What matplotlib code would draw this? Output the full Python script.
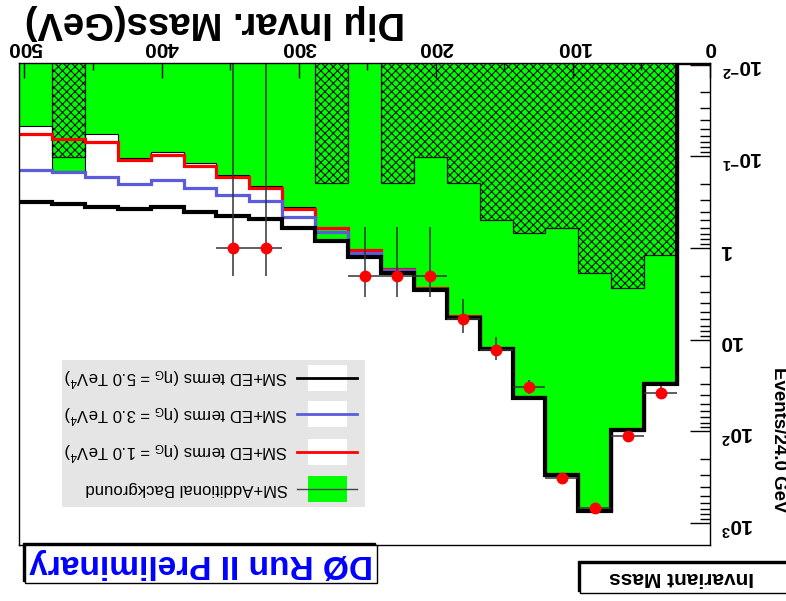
import numpy as np
import matplotlib
matplotlib.use("Agg")
import matplotlib.pyplot as plt
from matplotlib.patches import Rectangle
from matplotlib.lines import Line2D
from matplotlib.ticker import FixedLocator, LogLocator, NullFormatter

plt.rcParams['font.family'] = ['Liberation Sans', 'DejaVu Sans']
plt.rcParams['mathtext.fontset'] = 'custom'
plt.rcParams['mathtext.rm'] = 'Liberation Sans'
plt.rcParams['mathtext.it'] = 'Liberation Sans:italic'
plt.rcParams['mathtext.bf'] = 'Liberation Sans:bold'
plt.rcParams['hatch.linewidth'] = 0.8

# dimuon invariant mass, 24 GeV bins from 0 to 504 GeV (first bin 0-24)
bin_width = 24.0
edges = np.arange(22) * bin_width

sm_add_bkg = [0, 30.3, 97.5, 730, 300, 43.4, 12.7, 5.73, 2.9, 1.8, 1.2,
              0.81, 0.36, 0.21, 0.159, 0.119, 0.089, 0.105, 0.057, 0.145, 0.0465]
add_bkg_band = [np.nan, 1.19, 2.70, 1.88, 0.60, 0.69, 0.50, 0.196, 0.1005, 0.196, np.nan,
                0.196, np.nan, np.nan, np.nan, np.nan, np.nan, np.nan, np.nan, 0.1005, np.nan]
ed_eta1 = [0, 29.5, 95, 715, 293, 42, 12.3, 5.55, 2.75, 1.68, 1.06,
           0.61, 0.377, 0.222, 0.168, 0.126, 0.0977, 0.111, 0.069, 0.0645, 0.0569]
ed_eta3 = [0, 29.8, 96, 720, 296, 42.6, 12.4, 5.6, 2.8, 1.73, 1.13,
           0.67, 0.453, 0.308, 0.265, 0.219, 0.183, 0.201, 0.166, 0.150, 0.1416]
ed_eta5 = [0, 30.3, 97.5, 730, 300, 43.4, 12.7, 5.73, 2.9, 1.85, 1.24,
           0.83, 0.607, 0.482, 0.446, 0.40, 0.361, 0.373, 0.358, 0.33, 0.311]
data = [0, 38, 113, 685, 323, 33, 13, 6, 2, 2, 2,
        0, 0, 1, 1, 0, 0, 0, 0, 0, 0]

x_ticks = [0, 100, 200, 300, 400, 500]
y_ticks = [0.01, 0.1, 1, 10, 100, 1000]
y_tick_labels = [r'$\mathbf{10^{-2}}$', r'$\mathbf{10^{-1}}$', r'$\mathbf{1}$',
                 r'$\mathbf{10}$', r'$\mathbf{10^{2}}$', r'$\mathbf{10^{3}}$']

legend_rows = [
    ('SM+ED terms ($\\mathrm{\\eta_G}$ = 5.0 TeV$^{4}$)', 'black'),
    ('SM+ED terms ($\\mathrm{\\eta_G}$ = 3.0 TeV$^{4}$)', '#5b5bdc'),
    ('SM+ED terms ($\\mathrm{\\eta_G}$ = 1.0 TeV$^{4}$)', 'red'),
    ('SM+Additional Background', '#00ff00'),
]

W, H = 786, 601
y_lo, y_hi = 0.0096, 1730.0


def fx(px):
    return px / W


def fy(py):
    return 1 - py / H


fig = plt.figure(figsize=(W / 100, H / 100), dpi=100)
# the whole picture is turned upside down: x runs right to left, y top to bottom
ax = fig.add_axes([fx(19), fy(545), fx(710) - fx(19), fy(63) - fy(545)])
ax.set_yscale('log')
ax.set_xlim(504, 0)
ax.set_ylim(y_hi, y_lo)

green = np.clip(np.array(sm_add_bkg, float), y_lo, None)
ax.stairs(green, edges, baseline=y_lo, fill=True, color='#00ff00', lw=0, zorder=1)

band = np.array(add_bkg_band, float)
i = 0
while i < len(band):
    if np.isnan(band[i]):
        i += 1
        continue
    j = i
    while j < len(band) and not np.isnan(band[j]):
        j += 1
    ax.stairs(band[i:j], edges[i:j + 1], baseline=y_lo, fill=True, facecolor='none',
              edgecolor='#111111', hatch='xxxx', lw=0.9, zorder=2)
    i = j

ax.stairs(green, edges, baseline=None, color='black', lw=0.8, zorder=3)
ax.stairs(np.clip(ed_eta1, y_lo, None), edges, baseline=None, color='red', lw=2.3, zorder=4)
ax.stairs(np.clip(ed_eta3, y_lo, None), edges, baseline=None, color='#5b5bdc', lw=2.3, zorder=5)
ax.stairs(np.clip(ed_eta5, y_lo, None), edges, baseline=None, color='black', lw=3.0, zorder=6)

d = np.array(data, float)
centers = 0.5 * (edges[:-1] + edges[1:])
m = d > 0
err = np.sqrt(d[m])
lo = d[m] - np.clip(d[m] - err, 1e-5, None)
ax.errorbar(centers[m], d[m], xerr=bin_width / 2, yerr=[lo, err], fmt='o', color='red',
            ecolor='#333333', elinewidth=1.1, capsize=0, markersize=7.5, zorder=8)

ax.xaxis.tick_top()
ax.set_xticks(x_ticks, labels=[str(v) for v in x_ticks], fontweight='bold', fontsize=15)
ax.xaxis.set_minor_locator(FixedLocator([50, 150, 250, 350, 450]))
ax.tick_params(axis='x', which='major', direction='in', length=10.5, width=1,
               labelrotation=180, pad=4)
ax.tick_params(axis='x', which='minor', direction='in', length=5, width=1)

ax.yaxis.tick_right()
ax.set_yticks(y_ticks, labels=y_tick_labels, fontsize=15)
ax.yaxis.set_minor_locator(LogLocator(base=10, subs=np.arange(2, 10)))
ax.yaxis.set_minor_formatter(NullFormatter())
ax.tick_params(axis='y', which='major', direction='in', length=14.4, width=1,
               labelrotation=180, pad=8)
ax.tick_params(axis='y', which='minor', direction='in', length=7.2, width=1)
for s in ax.spines.values():
    s.set_linewidth(1.0)
    s.set_zorder(10)

fig.text(fx(25), fy(22), 'Diμ Invar. Mass(GeV)', rotation=180, ha='left', va='center',
         fontsize=27.5, fontweight='bold')
fig.text(fx(779), fy(440), 'Events/24.0 GeV', rotation=270, ha='center', va='center',
         fontsize=13.5, fontweight='bold')

# legend, drawn by hand so that its text can be upside down
lax = fig.add_axes([fx(62), fy(507), fx(365) - fx(62), fy(360) - fy(507)])
lax.set_xlim(0, 303)
lax.set_ylim(147, 0)
lax.patch.set_facecolor('#e5e5e5')
lax.set_xticks([])
lax.set_yticks([])
for s in lax.spines.values():
    s.set_visible(False)
row_y = [17.7, 54.3, 91.7, 128.7]
for (label, col), yr in zip(legend_rows, row_y):
    is_fill = label.startswith('SM+Additional')
    lax.add_patch(Rectangle((246, yr - 13), 39, 26, facecolor=col if is_fill else 'white',
                            edgecolor='none'))
    lax.add_line(Line2D([235, 295], [yr, yr], color='#444444' if is_fill else col,
                        lw=1.0 if is_fill else 2.0))
    lax.text(226, yr, label, rotation=180, ha='right', va='center', fontsize=12)

# DØ box with shadow
fig.add_artist(Rectangle((fx(23), fy(581)), fx(352) - fx(0), fy(0) - fy(38),
                         transform=fig.transFigure, facecolor='black', edgecolor='black'))
fig.add_artist(Rectangle((fx(25), fy(583)), fx(352) - fx(0), fy(0) - fy(38),
                         transform=fig.transFigure, facecolor='white', edgecolor='black', lw=1))
fig.text(fx(201), fy(564), 'DØ Run II Preliminary', rotation=180, ha='center', va='center',
         fontsize=24, fontweight='bold', color='#0000ff')

# Invariant Mass box with shadow
fig.add_artist(Rectangle((fx(578), fy(591)), fx(220) - fx(0), fy(0) - fy(30),
                         transform=fig.transFigure, facecolor='black', edgecolor='black'))
fig.add_artist(Rectangle((fx(580), fy(593)), fx(220) - fx(0), fy(0) - fy(30),
                         transform=fig.transFigure, facecolor='white', edgecolor='black', lw=1))
fig.text(fx(682), fy(578), 'Invariant Mass', rotation=180, ha='center', va='center',
         fontsize=15, fontweight='bold')

fig.savefig('out.png', dpi=100)
